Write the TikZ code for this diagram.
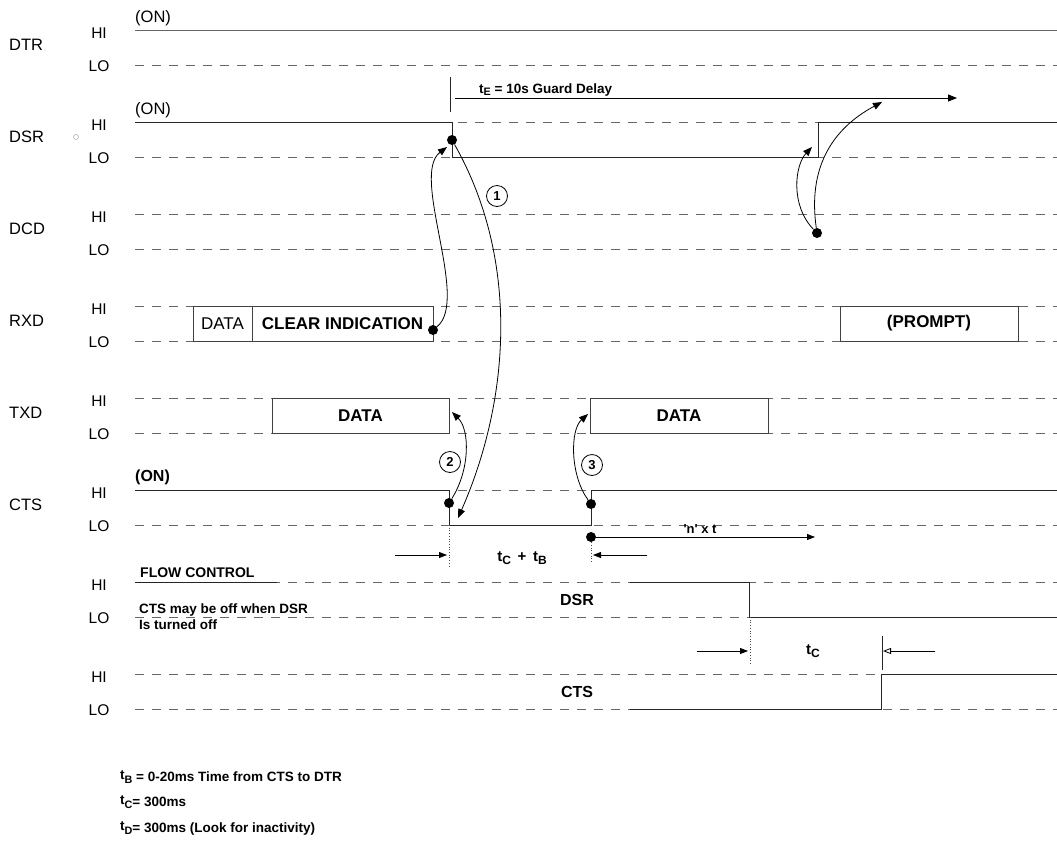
\documentclass[tikz,border=0pt]{standalone}
\usepackage{fontspec}
\setmainfont{Liberation Sans}
\usepackage{graphicx}
\usetikzlibrary{arrows.meta}
\newcommand{\lsub}[1]{\raisebox{-0.35ex}{\scalebox{0.8}{#1}}}
\newcommand{\fs}[1]{\fontsize{#1}{#1}\selectfont}
\begin{document}
\begin{tikzpicture}[x=1pt,y=-1pt,
  gridline/.style={draw=black!60, line width=0.8pt, dash pattern=on 9pt off 8pt},
  wave/.style={draw=black!85, line width=0.9pt},
  boxed/.style={draw=black!75, line width=0.8pt, inner sep=0, minimum height=35pt},
  rowname/.style={font=\fs{16.5}, inner sep=0, anchor=west},
  level/.style={font=\fs{15.5}, inner sep=0},
  onlbl/.style={font=\fs{16.5}, inner sep=0, anchor=west},
  bigbold/.style={font=\bfseries\fs{17}},
  bigreg/.style={font=\fs{17}},
  note/.style={font=\bfseries\fs{13.5}, inner sep=0, anchor=west},
  legend/.style={font=\bfseries\fs{13.5}, inner sep=0, anchor=west},
  dotn/.style={circle, fill=black, inner sep=0, minimum size=10pt},
  numc/.style={circle, draw=black, line width=0.8pt, inner sep=0, minimum size=21pt, font=\bfseries\fs{13}},
  link/.style={line width=0.8pt, -{Triangle[length=9pt,width=7pt]}},
  dim/.style={line width=0.8pt, -{Triangle[length=8pt,width=6pt]}},
  dimopen/.style={line width=0.8pt, -{Triangle[open,length=8pt,width=6pt]}},
  guide/.style={draw=black!70, line width=0.7pt, dotted},
  tick/.style={draw=black!85, line width=0.8pt}
]
\useasboundingbox (0,0) rectangle (1057,844);

% grid lines and level labels
\foreach \r in {0,...,7}{
  \draw[gridline] (135,{30+92*\r}) -- (1057,{30+92*\r});
  \draw[gridline] (135,{65+92*\r}) -- (1057,{65+92*\r});
  \node[level] (hi\r) at (99,{33+92*\r}) {HI};
  \node[level] (lo\r) at (99,{66+92*\r}) {LO};
}
% signal names
\foreach \n [count=\i from 0] in {DTR,DSR,DCD,RXD,TXD,CTS}
  \node[rowname] (name\n) at (9,{45+92*\i}) {\n};
\draw[black!35, line width=0.5pt] (76,137) circle (2.5);

% (ON) labels
\node[onlbl] (onDTR) at (135,18) {(ON)};
\node[onlbl] (onDSR) at (135,110) {(ON)};
\node[onlbl, font=\bfseries\fs{16}] (onCTS) at (135,477) {(ON)};

% waveforms
\draw[wave, draw=black!60] (135,30) -- (1057,30);
\draw[wave] (135,122) -- (452,122) -- (452,157) -- (818,157) -- (818,122) -- (1057,122);
\draw[wave] (135,490) -- (449,490) -- (449,525) -- (591,525) -- (591,490) -- (1057,490);
\draw[wave] (135,582) -- (277,582);
\draw[wave] (630,582) -- (749,582) -- (749,617) -- (1057,617);
\draw[wave] (630,709) -- (881,709) -- (881,674) -- (1057,674);

% boxes
\node[boxed, minimum width=59pt, bigreg] (rxdata) at (222.5,323.5) {DATA};
\node[boxed, minimum width=181pt, bigbold] (clear) at (342.5,323.5) {CLEAR INDICATION};
\node[boxed, minimum width=178pt, bigbold] (prompt) at (929,323.5) {(PROMPT)};
\node[boxed, minimum width=177pt, bigbold] (txd1) at (360.5,415.5) {DATA};
\node[boxed, minimum width=178pt, bigbold] (txd2) at (679,415.5) {DATA};

% guard delay
\coordinate (tEs) at (450,77);
\coordinate (tEe) at (450,112);
\coordinate (tEa) at (455,98);
\coordinate (tEb) at (957,98);
\draw[tick] (tEs) -- (tEe);
\draw[link] (tEa) -- (tEb);
\node[note, anchor=base west] (tElbl) at (479,93) {t\lsub{E} = 10s Guard Delay};

% dots
\node[dotn] (d1) at (452,140) {};
\node[dotn] (drx) at (433,330) {};
\node[dotn] (d2) at (449,503) {};
\node[dotn] (d3) at (591,504) {};
\node[dotn] (d5) at (591,537) {};
\node[dotn] (d4) at (817,233) {};

% targets
\coordinate (t1) at (458,518);
\coordinate (trx) at (447,147);
\coordinate (t2) at (452,412);
\coordinate (t3) at (588,414);
\coordinate (t4a) at (812,147);
\coordinate (t4b) at (882,102);

\draw[link] (d1) .. controls (520,260) and (510,400) .. (t1);
\draw[link] (drx) .. controls (470,300) and (410,175) .. (trx);
\draw[link] (d2) .. controls (470,470) and (470,430) .. (t2);
\draw[link] (d3) .. controls (570,475) and (570,430) .. (t3);
\draw[link] (d4) .. controls (790,205) and (795,165) .. (t4a);
\draw[link] (d4) .. controls (808,170) and (830,130) .. (t4b);

\node[numc] (c1) at (497,196) {1};
\node[numc] (c2) at (450,462) {2};
\node[numc] (c3) at (592,465) {3};

% tC + tB
\coordinate (g1a) at (449,525);
\coordinate (g1b) at (449,567);
\coordinate (g2b) at (591,562);
\draw[guide] (g1a) -- (g1b);
\draw[guide] (d5) -- (g2b);
\coordinate (a1s) at (395,555);
\coordinate (a1e) at (447,555);
\coordinate (a2s) at (647,555);
\coordinate (a2e) at (593,555);
\draw[dim] (a1s) -- (a1e);
\draw[dim] (a2s) -- (a2e);
\node[font=\bfseries\fs{15}] (tctb) at (522,558) {t\lsub{C}\ \,+\ \,t\lsub{B}};

% n x t
\coordinate (nxt) at (815,537);
\draw[dim] (d5) -- (nxt);
\node[font=\bfseries\fs{13}] (nxtlbl) at (700,529) {\textquotesingle n\textquotesingle\ x t};

% flow control
\node[note, font=\bfseries\fs{14}] (fc) at (140,573) {FLOW CONTROL};
\node[note] (fc1) at (139,610) {CTS may be off when DSR};
\node[note] (fc2) at (139,625) {Is turned off};
\node[font=\bfseries\fs{16}] (dsr2) at (577,600) {DSR};
\node[font=\bfseries\fs{16}] (cts2) at (577,692) {CTS};

% tC
\coordinate (g3a) at (750,617);
\coordinate (g3b) at (750,664);
\draw[guide] (g3a) -- (g3b);
\coordinate (a3s) at (697,651);
\coordinate (a3e) at (748,651);
\draw[dim] (a3s) -- (a3e);
\node[font=\bfseries\fs{15}] (tclbl) at (813,651) {t\lsub{C}};
\coordinate (k1) at (882,636);
\coordinate (k2) at (882,670);
\draw[tick] (k1) -- (k2);
\coordinate (a4s) at (935,651);
\coordinate (a4e) at (883,651);
\draw[dimopen] (a4s) -- (a4e);

% legend
\node[legend] (lb) at (120,777) {\raisebox{2pt}{t}\lsub{B} = 0-20ms Time from CTS to DTR};
\node[legend] (lc) at (120,802) {\raisebox{2pt}{t}\lsub{C}= 300ms};
\node[legend] (ld) at (120,828) {\raisebox{2pt}{t}\lsub{D}= 300ms (Look for inactivity)};
\end{tikzpicture}
\end{document}
